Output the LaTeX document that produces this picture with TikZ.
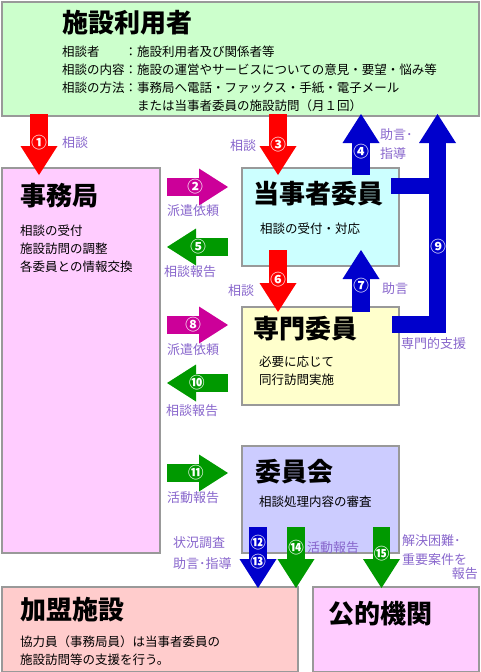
\documentclass[tikz,border=0pt]{standalone}
\usepackage{fontspec}
\setmainfont{Noto Sans CJK JP}
\usepackage{tikz}
\usetikzlibrary{arrows.meta}
\definecolor{edge}{HTML}{999999}
\definecolor{usrgreen}{HTML}{CCFFCC}
\definecolor{pinkbox}{HTML}{FFCCFF}
\definecolor{cyanbox}{HTML}{CCFFFF}
\definecolor{yelbox}{HTML}{FFFFCC}
\definecolor{lavbox}{HTML}{CCCCFF}
\definecolor{rosebox}{HTML}{FFCCCC}
\definecolor{arrred}{HTML}{FF0000}
\definecolor{arrblue}{HTML}{0000CC}
\definecolor{arrgreen}{HTML}{009900}
\definecolor{arrmag}{HTML}{CC0099}
\definecolor{note}{HTML}{8866CC}

\begin{document}
\begin{tikzpicture}[x=1pt,y=-1pt,
  box/.style={draw=edge,line width=2pt,anchor=north west,inner sep=0pt},
  ttl/.style={anchor=west,inner sep=0pt,font=\fontsize{26}{30}\selectfont\bfseries},
  txt/.style={anchor=west,inner sep=0pt,align=left,font=\fontsize{12.5}{18}\selectfont},
  lbl/.style={anchor=west,inner sep=0pt,align=left,text=note,font=\fontsize{13}{19}\selectfont},
  num/.style={inner sep=0pt,text=white,font=\fontsize{15.5}{15.5}\selectfont\bfseries},
  fat/.style={line width=17.5pt,-{Triangle[width=37pt,length=29pt,line width=0pt]}}]
  \useasboundingbox (0,0) rectangle (480,672);
  % boxes
  \node[box,fill=usrgreen,minimum width=477pt,minimum height=114pt] (user) at (1,1) {};
  \node[box,fill=pinkbox,minimum width=158pt,minimum height=385pt] (jimu) at (1,167) {};
  \node[box,fill=cyanbox,minimum width=157pt,minimum height=98pt] (toji) at (241,167) {};
  \node[box,fill=yelbox,minimum width=157pt,minimum height=98pt] (senm) at (241,306) {};
  \node[box,fill=lavbox,minimum width=157pt,minimum height=107pt] (iin) at (241,445) {};
  \node[box,fill=rosebox,minimum width=296pt,minimum height=85pt] (kamei) at (1,586) {};
  \node[box,fill=pinkbox,minimum width=166pt,minimum height=85pt] (koteki) at (312,586) {};
  % titles and texts in the boxes
  \node[ttl] (userT) at (62,23) {施設利用者};
  \node[txt] (userX) at (62,79.5) {\begin{tabular}{@{}l@{}l@{}}
    相談者 & ：施設利用者及び関係者等\\
    相談の内容 & ：施設の運営やサービスについての意見・要望・悩み等\\
    相談の方法 & ：事務局へ電話・ファックス・手紙・電子メール\\
    & \phantom{：}または当事者委員の施設訪問（月１回）\end{tabular}};
  \node[ttl] (jimuT) at (20,196) {事務局};
  \node[txt] (jimuX) at (20,249) {相談の受付\\施設訪問の調整\\各委員との情報交換};
  \node[ttl] (tojiT) at (253,194) {当事者委員};
  \node[txt] (tojiX) at (260,229) {相談の受付・対応};
  \node[ttl] (senmT) at (253,329) {専門委員};
  \node[txt] (senmX) at (259,371) {必要に応じて\\同行訪問実施};
  \node[ttl] (iinT) at (255,472) {委員会};
  \node[txt] (iinX) at (259,502) {相談処理内容の審査};
  \node[ttl] (kameiT) at (20,610) {加盟施設};
  \node[txt] (kameiX) at (20,650.5) {協力員（事務局員）は当事者委員の\\施設訪問等の支援を行う。};
  \node[ttl] (kotekiT) at (328,614) {公的機関};
  % arrow ends
  \foreach \n/\a/\b/\c/\d in {1/39/114/39/175, 3/278/114/278/175, 4/361/175/361/114,
      6/278/250/278/312, 7/361/312/361/250, 2/167/187/228/187, 5/228/247/167/247,
      8/167/325/228/325, 10/228/383/167/383, 11/167/473/228/473, 12/258/527/258/588,
      14/296/527/296/588, 15/381.5/527/381.5/588, 9/392/324.5/437.5/114, 9b/391/186/437.5/186}
    {\coordinate (s\n) at (\a,\b); \coordinate (e\n) at (\c,\d);}
  % arrows
  \draw[fat,arrred] (s1) -- (e1) node[num,pos=.47] (n1) {①};
  \draw[fat,arrred] (s3) -- (e3) node[num,pos=.5] (n3) {③};
  \draw[fat,arrblue] (s4) -- (e4) node[num,pos=.38] (n4) {④};
  \draw[fat,arrblue] (s9) -| (e9);
  \draw[arrblue,line width=16pt] (s9b) -- (e9b);
  \node[num] (n9) at (438,247) {⑨};
  \draw[fat,arrred] (s6) -- (e6) node[num,pos=.48] (n6) {⑥};
  \draw[fat,arrblue] (s7) -- (e7) node[num,pos=.42] (n7) {⑦};
  \draw[fat,arrmag] (s2) -- (e2) node[num,pos=.46] (n2) {②};
  \draw[fat,arrgreen] (s5) -- (e5) node[num,pos=.49] (n5) {⑤};
  \draw[fat,arrmag] (s8) -- (e8) node[num,pos=.43] (n8) {⑧};
  \draw[fat,arrgreen] (s10) -- (e10) node[num,pos=.51] (n10) {⑩};
  \draw[fat,arrgreen] (s11) -- (e11) node[num,pos=.475] (n11) {⑪};
  \draw[fat,arrblue] (s12) -- (e12) node[num,pos=.26] (n12) {⑫} node[num,pos=.57] (n13) {⑬};
  \draw[fat,arrgreen] (s14) -- (e14) node[num,pos=.33] (n14) {⑭};
  \draw[fat,arrgreen] (s15) -- (e15) node[num,pos=.43] (n15) {⑮};
  % arrow labels
  \node[lbl] (l1) at (62,143) {相談};
  \node[lbl] (l3) at (230,146) {相談};
  \node[lbl] (l4) at (380,144.5) {助言･\\指導};
  \node[lbl] (l9) at (401,344) {専門的支援};
  \node[lbl] (l6) at (228,291) {相談};
  \node[lbl] (l7) at (382,289) {助言};
  \node[lbl] (l2) at (167,211) {派遣依頼};
  \node[lbl] (l5) at (164,272) {相談報告};
  \node[lbl] (l8) at (167,350) {派遣依頼};
  \node[lbl] (l10) at (166,411) {相談報告};
  \node[lbl] (l11) at (167,498) {活動報告};
  \node[lbl] (l12) at (173,543) {状況調査};
  \node[lbl] (l13) at (173,564) {助言･指導};
  \node[lbl] (l14) at (307,548) {活動報告};
  \node[lbl] (l15) at (402,550.5) {解決困難･\\重要案件を};
  \node[lbl,anchor=east] (l15b) at (478,574) {報告};
\end{tikzpicture}
\end{document}
